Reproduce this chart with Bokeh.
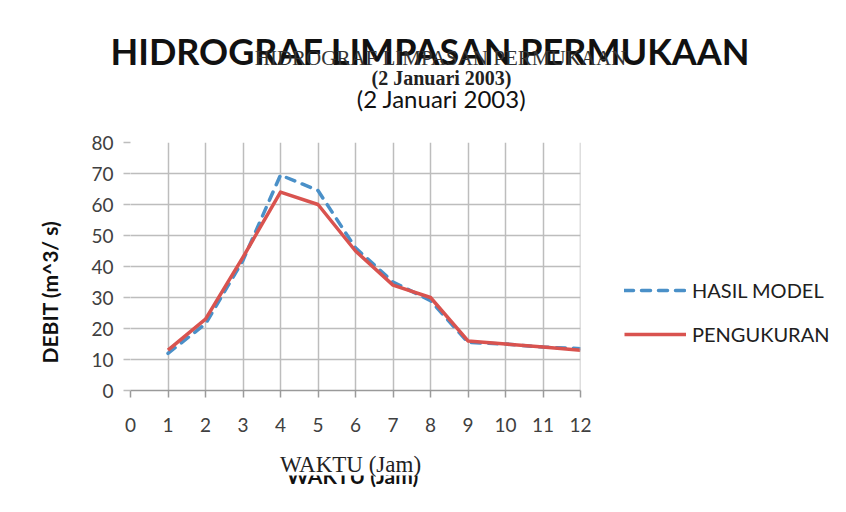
from bokeh.plotting import figure
from bokeh.layouts import column
from bokeh.models import Range1d, Legend, LegendItem, FixedTicker, ColumnDataSource
from bokeh.core.properties import value
from bokeh.embed import file_html
from bokeh.resources import INLINE

jam = [1, 2, 3, 4, 5, 6, 7, 8, 9, 10, 11, 12]
hasil_model = [12, 21.5, 42, 69.5, 64.5, 46, 35, 29, 15.5, 15, 14, 13.5]
pengukuran = [13, 23, 43, 64, 60, 45, 34, 30, 16, 15, 14, 13]
x_ticks = list(range(0, 13))
y_ticks = list(range(0, 81, 10))
title_text = "HIDROGRAF LIMPASAN PERMUKAAN"
subtitle_text = "(2 Januari 2003)"
x_label = "WAKTU (Jam)"
y_label = "DEBIT (m^3/ s)"
series_names = ["HASIL MODEL", "PENGUKURAN"]

SANS = "Lato"
SERIF = "Liberation Serif"
W = 830
LEFT = 130

def text_fig(h, top):
    f = figure(frame_width=W, frame_height=h, output_backend="svg", toolbar_location=None,
               x_range=Range1d(0, W), y_range=Range1d(top + h, top),
               x_axis_type=None, y_axis_type=None, min_border=0, frame_align=False)
    f.outline_line_color = None
    f.grid.visible = False
    return f

def put(f, txt, x, y, font, size, style="normal", color="black"):
    f.text(x=[x], y=[y], text=[txt], text_font=value(font), text_font_size=size,
           text_font_style=style, text_color=color, text_align="center",
           text_baseline="middle")

# ---- title block (canvas y 0..132)
top = text_fig(132, 0)
put(top, title_text, 430, 50, SANS, "36px", "bold", "#111111")
put(top, title_text, 440, 57, SERIF, "21px", "normal", "#333333")
put(top, subtitle_text, 441, 77, SERIF, "20px", "bold", "#222222")
put(top, subtitle_text, 441, 98, SANS, "24px", "normal", "#111111")

# ---- main chart
p = figure(frame_width=450, frame_height=248, output_backend="svg", toolbar_location=None,
           x_range=Range1d(0, 12), y_range=Range1d(0, 80), frame_align=False,
           min_border_left=LEFT, min_border_right=250, min_border_top=10, min_border_bottom=58)
p.outline_line_color = None

for ax in (p.xaxis[0], p.yaxis[0]):
    ax.axis_line_color = "#9a9a9a"
    ax.axis_line_width = 1.5
    ax.major_tick_line_color = "#9a9a9a"
    ax.major_tick_line_width = 1.5
    ax.major_tick_out = 7
    ax.major_tick_in = 0
    ax.minor_tick_line_color = None
    ax.major_label_text_font = SANS
    ax.major_label_text_font_size = "19px"
    ax.major_label_text_color = "#404040"
p.xaxis[0].ticker = FixedTicker(ticks=x_ticks)
p.yaxis[0].ticker = FixedTicker(ticks=y_ticks)
p.xaxis[0].major_label_standoff = 20
p.yaxis[0].major_label_standoff = 10
p.yaxis[0].axis_line_color = None
p.yaxis[0].major_tick_line_color = "#bdbdbd"
# trailing no-break spaces shift the visible label down to match the reference
p.yaxis[0].axis_label = y_label + "\u00a0" * 10
p.yaxis[0].axis_label_text_font = SANS
p.yaxis[0].axis_label_text_font_size = "21px"
p.yaxis[0].axis_label_text_font_style = "bold"
p.yaxis[0].axis_label_text_color = "#111111"
p.yaxis[0].axis_label_standoff = 26

p.xgrid.ticker = FixedTicker(ticks=x_ticks)
p.ygrid.ticker = FixedTicker(ticks=y_ticks)
p.grid.grid_line_color = "#bdbdbd"
p.grid.grid_line_width = 1.5

src = ColumnDataSource(dict(x=jam, m=hasil_model, o=pengukuran))
r1 = p.line("x", "m", source=src, line_color="#4a90c8", line_width=3.5,
            line_dash="9 8", line_cap="round", line_join="round")
r2 = p.line("x", "o", source=src, line_color="#d9534f", line_width=3.5, line_join="round")
p.segment(x0=[12], y0=[0], x1=[12], y1=[80], line_color="#bdbdbd", line_width=1.5)

legend = Legend(items=[LegendItem(label=series_names[0], renderers=[r1]),
                       LegendItem(label=series_names[1], renderers=[r2])],
                location="bottom_left", orientation="vertical",
                glyph_width=62, glyph_height=20, spacing=20, padding=0, margin=44,
                label_standoff=6, border_line_color=None, background_fill_alpha=0,
                label_text_font=SANS, label_text_font_size="20px", label_text_color="#202020")
p.add_layout(legend, "right")

# ---- bottom block (canvas y 448..496)
bot = text_fig(48, 448)
put(bot, x_label, 352, 475, SANS, "21px", "bold", "#111111")
bot.rect(x=[352], y=[464], width=[160], height=[22], fill_color="white", line_color=None)
put(bot, x_label, 350, 464, SERIF, "23px", "normal", "#222222")

layout = column(top, p, bot, spacing=0)
open("out.html", "w").write(file_html(layout, INLINE))
